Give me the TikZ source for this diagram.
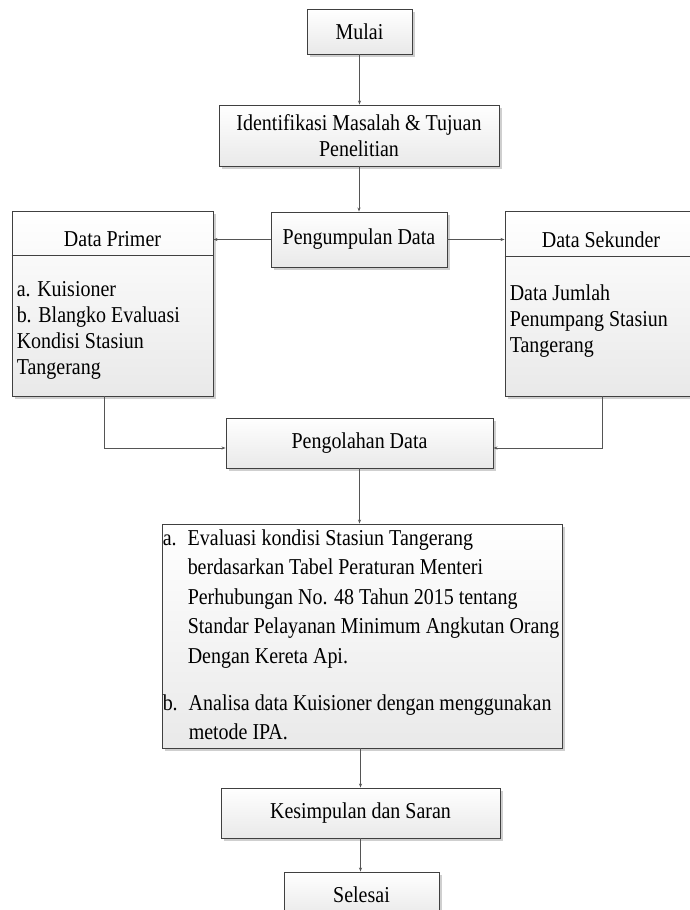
\documentclass[tikz,border=0pt]{standalone}
\usepackage{fontspec}
\setmainfont{Liberation Serif}[FakeStretch=0.88]
\usetikzlibrary{arrows.meta, shadows}
\definecolor{linegray}{HTML}{555555}
\definecolor{edgegray}{HTML}{404040}
\definecolor{fillgray}{HTML}{E9E9E9}
\definecolor{shadowgray}{HTML}{CFCFCF}

\begin{document}
\begin{tikzpicture}[
  x=1pt, y=-1pt,
  box/.style      = {rectangle, draw=edgegray, line width=0.9pt, inner sep=0pt,
                     top color=white, bottom color=fillgray, align=center,
                     font=\fontsize{22.7}{26}\selectfont,
                     drop shadow={shadow xshift=2.5pt, shadow yshift=-2.5pt,
                                  fill=shadowgray, opacity=1}},
  bodytext/.style = {inner sep=0pt, align=left, anchor=north west,
                     font=\fontsize{22.7}{26}\selectfont},
  headtext/.style = {inner sep=0pt, anchor=base, font=\fontsize{22.7}{26}\selectfont},
  divider/.style  = {draw=edgegray, line width=0.9pt},
  arrow/.style    = {-{Stealth[length=4pt, width=3pt]}, line width=0.8pt, color=linegray},
]
\useasboundingbox (0,0) rectangle (690,910);

% Nodes
\node[box, minimum width=105, minimum height=45]  (mulai)    at (359.5,31.5)  {Mulai};
\node[box, minimum width=280, minimum height=61]  (ident)    at (359,135.5)   {Identifikasi Masalah \& Tujuan\\Penelitian};
\node[box, minimum width=176, minimum height=55]  (kumpul)   at (359,239.5)   {Pengumpulan Data};
\node[box, minimum width=201, minimum height=185] (primer)   at (112.5,303.5) {};
\node[box, minimum width=192, minimum height=185] (sekunder) at (601,303.5)   {};
\node[box, minimum width=267, minimum height=50]  (olah)     at (359.5,443)   {Pengolahan Data};
\node[box, minimum width=400, minimum height=224] (eval)     at (362,636)     {};
\node[box, minimum width=279, minimum height=50]  (simpul)   at (360.5,813)   {Kesimpulan dan Saran};
\node[box, minimum width=155, minimum height=45]  (selesai)  at (361.5,894.5) {Selesai};

% Box contents
\node[headtext] (primerhead) at ([yshift=-36pt]primer.north) {Data Primer};
\draw[divider] ([yshift=-45pt]primer.north west) -- ([yshift=-45pt]primer.north east);
\node[bodytext] (primerbody) at ([xshift=5pt, yshift=-70.5pt]primer.north west)
      {a. Kuisioner\\b. Blangko Evaluasi\\Kondisi Stasiun\\Tangerang};

\node[headtext] (sekunderhead) at ([yshift=-36.7pt]sekunder.north) {Data Sekunder};
\draw[divider] ([yshift=-46pt]sekunder.north west) -- ([yshift=-46pt]sekunder.north east);
\node[bodytext] (sekunderbody) at ([xshift=5pt, yshift=-73.5pt]sekunder.north west)
      {Data Jumlah\\Penumpang Stasiun\\Tangerang};

\node[bodytext, font=\fontsize{22.7}{29.5}\selectfont] (evaltext)
      at ([xshift=1pt, yshift=-5.5pt]eval.north west)
      {\makebox[25pt][l]{a.}Evaluasi kondisi Stasiun Tangerang\\
       \hspace*{25pt}berdasarkan Tabel Peraturan Menteri\\
       \hspace*{25pt}Perhubungan No. 48 Tahun 2015 tentang\\
       \hspace*{25pt}Standar Pelayanan Minimum Angkutan Orang\\
       \hspace*{25pt}Dengan Kereta Api.\\[17.5pt]
       \makebox[26pt][l]{b.}Analisa data Kuisioner dengan menggunakan\\
       \hspace*{26pt}metode IPA.};

% Arrows
\draw[arrow] (mulai.south)  -- (mulai.south |- ident.north);
\draw[arrow] (ident.south)  -- (ident.south |- kumpul.north);
\draw[arrow] (kumpul.west)  -- (kumpul.west -| primer.east);
\draw[arrow] (kumpul.east)  -- (kumpul.east -| sekunder.west);
\draw[arrow] ([xshift=-8.5pt]primer.south) |- ([yshift=-5pt]olah.west);
\draw[arrow] ([xshift=1pt]sekunder.south)  |- ([yshift=-5pt]olah.east);
\draw[arrow] (olah.south)   -- (olah.south |- eval.north);
\draw[arrow] (simpul.north |- eval.south) -- (simpul.north);
\draw[arrow] (simpul.south) -- (simpul.south |- selesai.north);
\end{tikzpicture}
\end{document}
